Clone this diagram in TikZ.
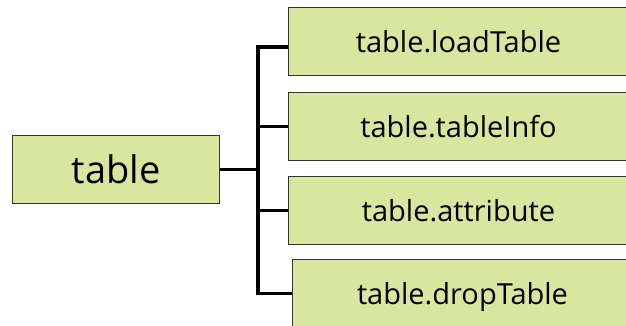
\documentclass[tikz,border=0pt]{standalone}
\usepackage{fontspec}
\setmainfont{Open Sans}

\definecolor{leaf}{RGB}{216,230,160}

\tikzset{
    box/.style={draw=black!80, line width=1pt, fill=leaf, anchor=north west,
        minimum height=68pt, inner sep=0pt, text depth=0pt,
        font=\fontsize{29}{32}\selectfont},
    link/.style={line width=3.5pt, black},
}

\begin{document}
\begin{tikzpicture}[x=1pt, y=-1pt]
    \useasboundingbox (0, 0) rectangle (626, 325);

    \node [box, minimum width=207pt, font=\fontsize{38}{42}\selectfont] (root) at (12, 135) {table};

    \foreach \name/\x/\y/\txt in {load/288/7/table.loadTable, info/288/92/table.tableInfo,
                                  attr/288/176/table.attribute, drop/292/259/table.dropTable} {
        \node [box, minimum width=340pt] (\name) at (\x, \y) {\txt};
        }

    \coordinate (fork) at (root.east -| 258, 0);

    \draw [link] (root.east) -- (fork);
    \draw [link] ([yshift=-5.5pt]load.west) -| (fork) |- (drop.west);
    \foreach \name in {info, attr} {
        \draw [link] (\name.west) -- (\name.west -| fork);
        }
\end{tikzpicture}
\end{document}
